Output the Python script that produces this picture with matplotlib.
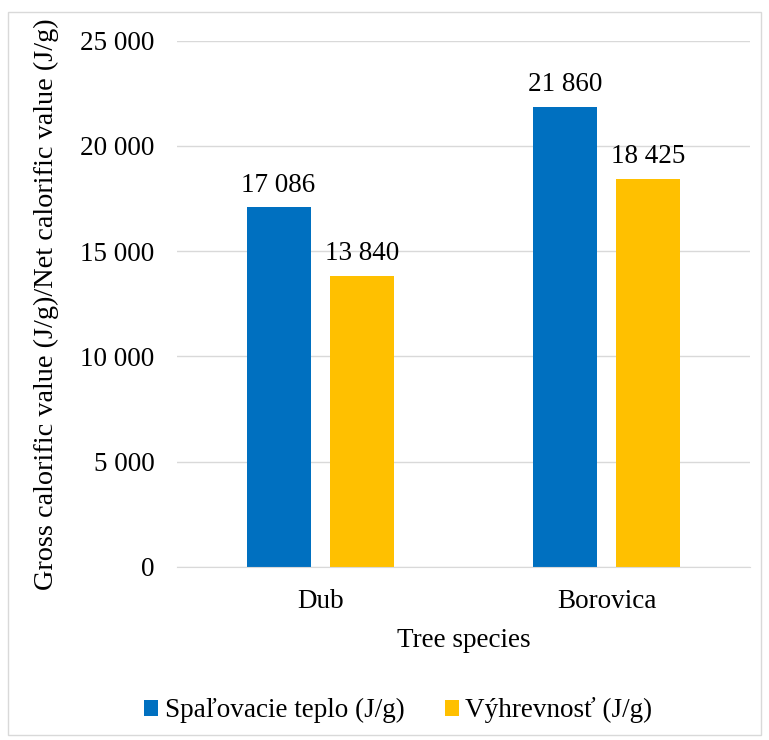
import numpy as np
import matplotlib.pyplot as plt
from matplotlib.patches import Rectangle

species = ["Dub", "Borovica"]
gross = [17086, 21860]
net = [13840, 18425]
series_names = ["Spaľovacie teplo (J/g)", "Výhrevnosť (J/g)"]
yticks = [0, 5000, 10000, 15000, 20000, 25000]

plt.rcParams['font.family'] = ['Liberation Serif', 'DejaVu Serif']
fs = 19.5

fig = plt.figure(figsize=(7.69, 7.40), dpi=100)
ax = fig.add_axes([0.230, 0.234, 0.745, 0.711])

x = np.arange(len(species))
w = 0.223
off = 0.145
b1 = ax.bar(x - off, gross, w, color='#0070C0', label=series_names[0])
b2 = ax.bar(x + off, net, w, color='#FFC000', label=series_names[1])

def fmt(v):
    return f"{v:,.0f}".replace(",", " ")

for bars, vals in [(b1, gross), (b2, net)]:
    for r, v in zip(bars, vals):
        ax.annotate(fmt(v), (r.get_x() + r.get_width() / 2, v), xytext=(0, 7),
                    textcoords='offset points', ha='center', va='bottom', fontsize=fs)

ax.set_xlim(-0.5, 1.5)
ax.set_ylim(0, 25000)
ax.set_yticks(yticks)
ax.set_yticklabels([fmt(v) for v in yticks], fontsize=fs)
ax.set_xticks(x)
ax.set_xticklabels(species, fontsize=fs)
ax.tick_params(length=0)
ax.tick_params(axis='x', pad=16)
ax.tick_params(axis='y', pad=16)
ax.grid(axis='y', color='#d9d9d9', linewidth=1)
ax.set_axisbelow(True)
for s in ['top', 'right', 'left']:
    ax.spines[s].set_visible(False)
ax.spines['bottom'].set_color('#d9d9d9')

ax.set_xlabel("Tree species", fontsize=fs, labelpad=10)
ax.set_ylabel("Gross calorific value (J/g)/Net calorific value (J/g)", fontsize=20.3, labelpad=15)

fig.legend(loc='center', bbox_to_anchor=(0.518, 0.040), ncol=2, frameon=False,
           fontsize=fs, handlelength=0.5, handleheight=0.5, handletextpad=0.25,
           columnspacing=1.5)

fig.patches.append(Rectangle((0.011, 0.007), 0.979, 0.977, transform=fig.transFigure,
                             fill=False, edgecolor='#d9d9d9', linewidth=1))

fig.savefig("out.png", dpi=100)
